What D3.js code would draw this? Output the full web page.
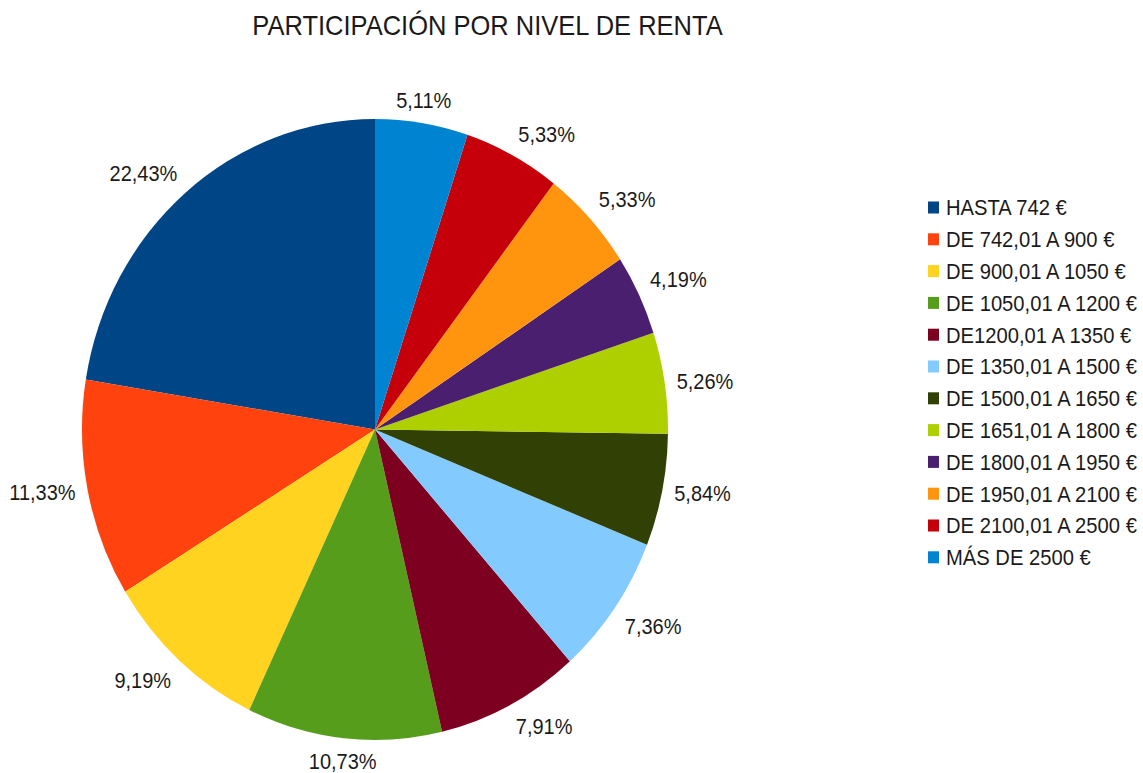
<!DOCTYPE html>
<html>
<head>
<meta charset="utf-8">
<script src="https://cdn.jsdelivr.net/npm/d3@7"></script>
<style>
  body { margin: 0; background: #fff; }
  svg { display: block; }
  text { font-family: "Liberation Sans", Arial, sans-serif; fill: #1a1a1a; }
</style>
</head>
<body>
<svg width="1143" height="773"></svg>
<script>
const categories = [
  "HASTA 742 €",
  "DE 742,01 A 900 €",
  "DE 900,01 A 1050 €",
  "DE 1050,01 A 1200 €",
  "DE1200,01 A 1350 €",
  "DE 1350,01 A 1500 €",
  "DE 1500,01 A 1650 €",
  "DE 1651,01 A 1800 €",
  "DE 1800,01 A 1950 €",
  "DE 1950,01 A 2100 €",
  "DE 2100,01 A 2500 €",
  "MÁS DE 2500 €"
];
const values = [22.43, 11.33, 9.19, 10.73, 7.91, 7.36, 5.84, 5.26, 4.19, 5.33, 5.33, 5.11];
const colors = ["#004586", "#ff420e", "#ffd320", "#579d1c", "#7e0021", "#83caff",
                "#314004", "#aecf00", "#4b1f6f", "#ff950e", "#c5000b", "#0084d1"];
const title = "PARTICIPACIÓN POR NIVEL DE RENTA";

const svg = d3.select("svg");
const stretch = 1.12;   // text in the picture is a bit taller than wide

const cx = 375, cy = 429.5, rx = 293, ry = 310.5, R = 300;

const color = d3.scaleOrdinal().domain(categories).range(colors);

const pie = d3.pie().sort(null).startAngle(0).endAngle(-2 * Math.PI);
const arcs = pie(values).map((a, i) => Object.assign(a, { name: categories[i] }));
const arc = d3.arc().innerRadius(0).outerRadius(R);

// title
svg.append("g")
    .attr("transform", `translate(487.5,25.5) scale(1,1.1)`)
  .append("text")
    .attr("text-anchor", "middle")
    .attr("dy", "0.35em")
    .style("font-size", "25.5px")
    .text(title);

// pie, drawn round and squeezed into the ellipse
svg.append("g")
    .attr("transform", `translate(${cx},${cy}) scale(${rx / R},${ry / R})`)
  .selectAll("path")
  .data(arcs)
  .join("path")
    .attr("d", arc)
    .attr("fill", d => color(d.name));

// labels outside the pie
const sxs = [0, 1, 1, 1, 0, -1, -1, -1];
const sys = [-1, -1, 0, 1, 1, 1, 0, -1];
const gap = 12, h = 22;
const labels = svg.append("g").selectAll("g")
  .data(arcs)
  .join("g");
labels.append("text")
    .attr("text-anchor", "middle")
    .attr("dy", "0.35em")
    .style("font-size", "20px")
    .text(d => d.data.toFixed(2).replace(".", ",") + "%");
labels.attr("transform", function(d) {
  const t = (d.startAngle + d.endAngle) / 2;
  const s = Math.sin(t), c = Math.cos(t);
  let deg = t * 180 / Math.PI;
  deg = ((deg % 360) + 360) % 360;
  const sec = Math.round(deg / 45) % 8;
  const w = this.getBBox().width;
  const x = cx + rx * s + gap * s + sxs[sec] * w / 2;
  const y = cy - ry * c - gap * c + sys[sec] * h / 2;
  return `translate(${x},${y}) scale(1,${stretch})`;
});

// legend
const legend = svg.append("g").selectAll("g")
  .data(categories)
  .join("g")
    .attr("transform", (d, i) => `translate(928,${207.5 + i * 31.8})`);
legend.append("rect")
    .attr("x", 0).attr("y", -6)
    .attr("width", 11).attr("height", 12)
    .attr("fill", d => color(d));
legend.append("g")
    .attr("transform", `translate(18,0) scale(1,${stretch})`)
  .append("text")
    .attr("dy", "0.35em")
    .style("font-size", "20.2px")
    .text(d => d);
</script>
</body>
</html>
